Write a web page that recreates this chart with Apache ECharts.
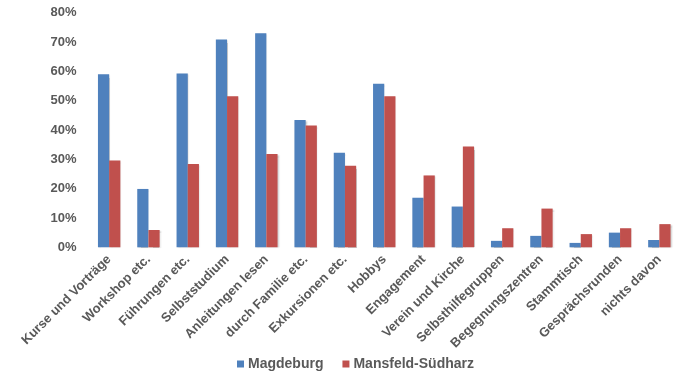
<!DOCTYPE html>
<html>
<head>
<meta charset="utf-8">
<script src="https://cdn.jsdelivr.net/npm/echarts@6/dist/echarts.min.js"></script>
<style>
  html, body { margin: 0; padding: 0; background: #fff; }
  #chart { width: 679px; height: 372px; }
</style>
</head>
<body>
<div id="chart"></div>
<script>
// Categories of learning activities
const categories = [
  'Kurse und Vorträge', 'Workshop etc.', 'Führungen etc.', 'Selbststudium',
  'Anleitungen lesen', 'durch Familie etc.', 'Exkursionen etc.', 'Hobbys',
  'Engagement', 'Verein und Kirche', 'Selbsthilfegruppen', 'Begegnungszentren',
  'Stammtisch', 'Gesprächsrunden', 'nichts davon'
];

// Share of respondents (%) per region
const magdeburg = [59.0, 19.9, 59.3, 70.9, 73.0, 43.4, 32.2, 55.8, 16.9, 13.9, 2.2, 3.9, 1.5, 5.0, 2.5];
const mansfeldSuedharz = [29.6, 5.9, 28.4, 51.5, 31.8, 41.5, 27.8, 51.5, 24.5, 34.4, 6.5, 13.2, 4.5, 6.5, 7.9];

const seriesNames = ['Magdeburg', 'Mansfeld-Südharz'];
const seriesColors = ['#4F81BD', '#C0504D'];

const font = '"Liberation Sans", Arial, sans-serif';
const textColor = '#595959';

const chart = echarts.init(document.getElementById('chart'), null, { renderer: 'canvas' });

const barStyle = (color) => ({
  color: color,
  shadowColor: 'rgba(0,0,0,0.22)',
  shadowBlur: 1.5,
  shadowOffsetX: 1,
  shadowOffsetY: 1
});

chart.setOption({
  animation: false,
  backgroundColor: '#fff',
  grid: { left: 89.5, right: -5, top: 12.7, bottom: 124.7, containLabel: false },
  legend: {
    left: 232,
    top: 352,
    itemWidth: 7,
    itemHeight: 7,
    itemGap: 19,
    icon: 'rect',
    textStyle: { fontFamily: font, fontWeight: 'bold', fontSize: 14, color: textColor, padding: [0, 0, 0, -1] },
    data: seriesNames
  },
  xAxis: {
    type: 'category',
    data: categories,
    axisLine: { show: false },
    axisTick: { show: false },
    axisLabel: {
      interval: 0,
      rotate: 45,
      margin: 10,
      fontFamily: font,
      fontWeight: 'bold',
      fontSize: 13,
      color: textColor
    }
  },
  yAxis: {
    type: 'value',
    min: 0,
    max: 80,
    interval: 10,
    axisLine: { show: false },
    axisTick: { show: false },
    splitLine: { show: false },
    axisLabel: {
      margin: 13,
      fontFamily: font,
      fontWeight: 'bold',
      fontSize: 13,
      color: textColor,
      formatter: '{value}%'
    }
  },
  series: [
    {
      name: seriesNames[0],
      type: 'bar',
      data: magdeburg,
      barGap: '0%',
      barCategoryGap: '43%',
      itemStyle: barStyle(seriesColors[0])
    },
    {
      name: seriesNames[1],
      type: 'bar',
      data: mansfeldSuedharz,
      barGap: '0%',
      barCategoryGap: '43%',
      itemStyle: barStyle(seriesColors[1])
    }
  ]
});
</script>
</body>
</html>
